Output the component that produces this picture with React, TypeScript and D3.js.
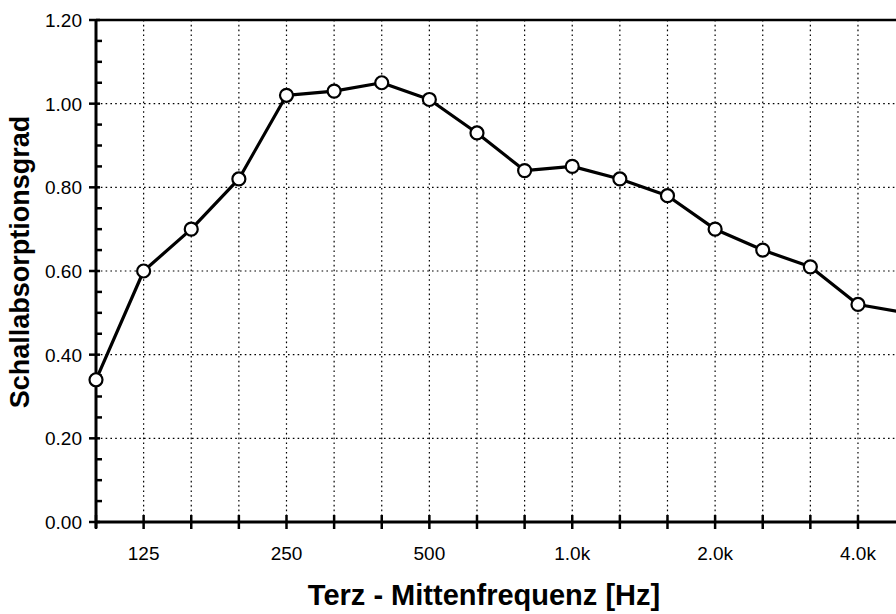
import { useEffect, useRef } from "react";
import * as d3 from "d3";

const bands = [100, 125, 160, 200, 250, 315, 400, 500, 630, 800, 1000, 1250, 1600, 2000, 2500, 3150, 4000, 5000];
const alpha = [0.34, 0.60, 0.70, 0.82, 1.02, 1.03, 1.05, 1.01, 0.93, 0.84, 0.85, 0.82, 0.78, 0.70, 0.65, 0.61, 0.52, 0.50];
const labelledBands = [125, 250, 500, 1000, 2000, 4000];
const labelText = ["125", "250", "500", "1.0k", "2.0k", "4.0k"];
const yTicks = [0, 0.2, 0.4, 0.6, 0.8, 1.0, 1.2];

const W = 896;
const H = 614;
const FONT = "'Liberation Sans', Arial, sans-serif";

export default function App() {
  const svgRef = useRef<SVGSVGElement | null>(null);

  useEffect(() => {
    const el = svgRef.current;
    if (!el) return;
    const svg = d3.select(el);
    svg.selectAll("*").remove();

    const left = 96;
    const x = d3.scalePoint<number>().domain(bands).range([left, 905.6]);
    const y = d3.scaleLinear().domain([0, 1.2]).range([522, 20]);

    // grid
    const grid = svg.append("g").attr("stroke", "#000").attr("stroke-width", 1.2).attr("stroke-dasharray", "1.6,3.2");
    grid
      .selectAll("line.v")
      .data(bands.slice(1))
      .join("line")
      .attr("x1", (d) => x(d)!)
      .attr("x2", (d) => x(d)!)
      .attr("y1", y(1.2))
      .attr("y2", y(0));
    grid
      .selectAll("line.h")
      .data(yTicks.slice(1, -1))
      .join("line")
      .attr("class", "h")
      .attr("x1", left)
      .attr("x2", W)
      .attr("y1", (d) => y(d))
      .attr("y2", (d) => y(d));

    // frame
    const axis = svg.append("g").attr("stroke", "#000");
    axis.append("line").attr("x1", left).attr("x2", W).attr("y1", y(1.2)).attr("y2", y(1.2)).attr("stroke-width", 2.5);
    axis.append("line").attr("x1", left).attr("x2", W).attr("y1", y(0)).attr("y2", y(0)).attr("stroke-width", 3);
    axis.append("line").attr("x1", left).attr("x2", left).attr("y1", y(1.2) - 1).attr("y2", y(0) + 6).attr("stroke-width", 3);

    // y ticks
    axis
      .selectAll("line.ymaj")
      .data(yTicks)
      .join("line")
      .attr("x1", left - 7)
      .attr("x2", left + 4)
      .attr("y1", (d) => y(d))
      .attr("y2", (d) => y(d))
      .attr("stroke-width", 2.5);
    const minor = d3.range(0, 1.2, 0.05).filter((_, i) => i % 4 !== 0);
    axis
      .selectAll("line.ymin")
      .data(minor)
      .join("line")
      .attr("class", "ymin")
      .attr("x1", left)
      .attr("x2", left + 6)
      .attr("y1", (d) => y(d))
      .attr("y2", (d) => y(d))
      .attr("stroke-width", 2.5);

    // x ticks
    axis
      .selectAll("line.xt")
      .data(bands)
      .join("line")
      .attr("class", "xt")
      .attr("x1", (d) => x(d)!)
      .attr("x2", (d) => x(d)!)
      .attr("y1", y(0) - 7)
      .attr("y2", y(0) + 7)
      .attr("stroke-width", 2.5);

    // tick labels
    svg
      .append("g")
      .selectAll("text")
      .data(yTicks)
      .join("text")
      .attr("x", 82)
      .attr("y", (d) => y(d))
      .attr("dy", "0.36em")
      .attr("text-anchor", "end")
      .attr("font-family", FONT)
      .attr("font-size", 19)
      .text((d) => d.toFixed(2));

    svg
      .append("g")
      .selectAll("text")
      .data(labelledBands)
      .join("text")
      .attr("x", (d) => x(d)!)
      .attr("y", 560)
      .attr("text-anchor", "middle")
      .attr("font-family", FONT)
      .attr("font-size", 19)
      .text((_, i) => labelText[i]);

    // axis titles
    svg
      .append("text")
      .attr("x", 484)
      .attr("y", 605)
      .attr("text-anchor", "middle")
      .attr("font-family", FONT)
      .attr("font-weight", "bold")
      .attr("font-size", 29)
      .text("Terz - Mittenfrequenz [Hz]");

    svg
      .append("text")
      .attr("transform", "translate(29,262) rotate(-90)")
      .attr("text-anchor", "middle")
      .attr("font-family", FONT)
      .attr("font-weight", "bold")
      .attr("font-size", 27)
      .text("Schallabsorptionsgrad");

    // series
    const pts = bands.map((b, i) => [x(b)!, y(alpha[i])] as [number, number]);
    svg
      .append("path")
      .attr("d", d3.line()(pts))
      .attr("fill", "none")
      .attr("stroke", "#000")
      .attr("stroke-width", 3.2)
      .attr("stroke-linejoin", "round");

    svg
      .append("g")
      .selectAll("circle")
      .data(pts)
      .join("circle")
      .attr("cx", (d) => d[0])
      .attr("cy", (d) => d[1])
      .attr("r", 6.5)
      .attr("fill", "#fff")
      .attr("stroke", "#000")
      .attr("stroke-width", 2.2);
  }, []);

  return (
    <svg
      ref={svgRef}
      width={W}
      height={H}
      style={{ position: "absolute", left: 0, top: 0, background: "#fff", display: "block" }}
    />
  );
}
